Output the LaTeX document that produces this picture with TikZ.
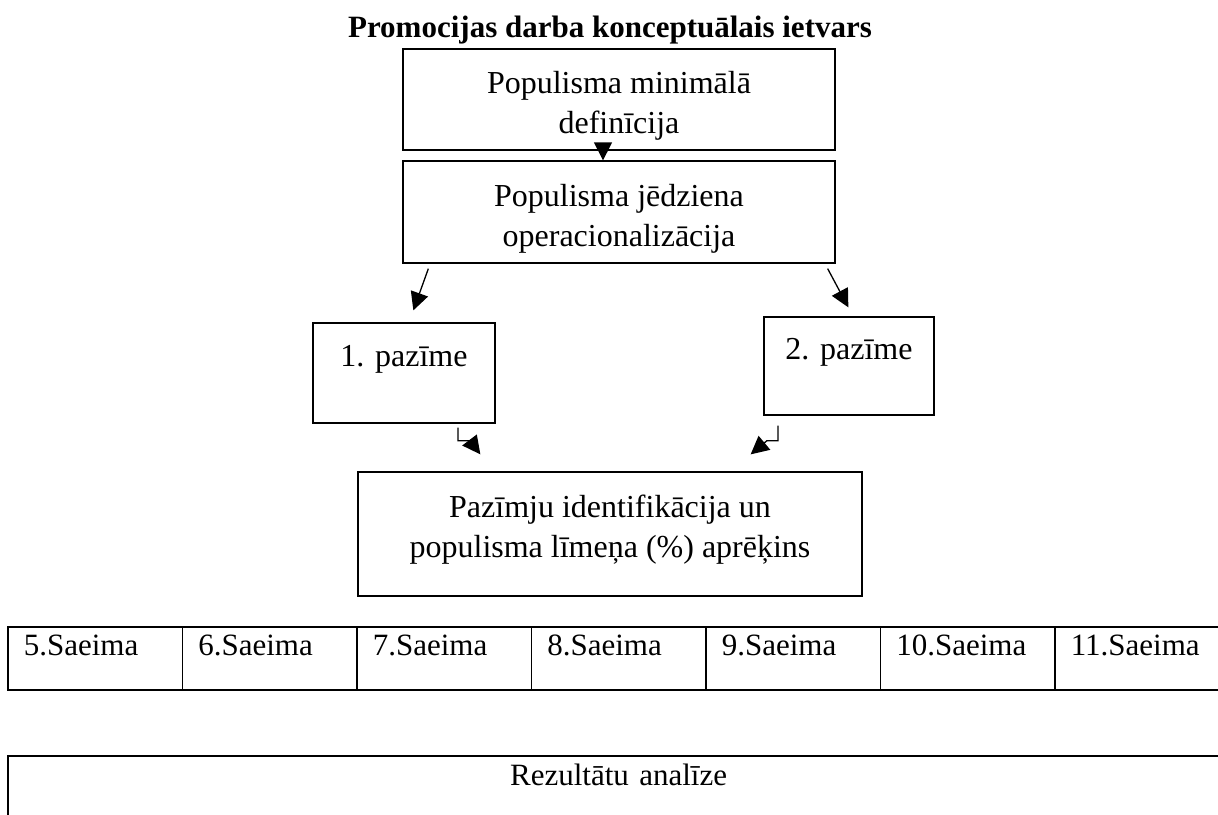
\documentclass[tikz,border=0pt]{standalone}
\usepackage{fontspec}
\setmainfont{Liberation Serif}
\usetikzlibrary{arrows.meta,calc}

\newcommand{\padlow}[1]{\rule[-#1]{0pt}{#1}}
\newcommand{\padtop}[1]{\rule{0pt}{#1}}

\begin{document}
\begin{tikzpicture}[x=1pt,y=-1pt,
  every node/.style={font=\fontsize{31pt}{40pt}\selectfont},
  box/.style={draw,line width=1.3pt,align=center,inner sep=0pt,font=\fontsize{32pt}{40pt}\selectfont},
  cell/.style={draw,line width=1.7pt,anchor=north west,inner ysep=0pt,inner xsep=16pt,
    text width=142.5pt,align=left,text height=29pt,text depth=34pt},
  arr/.style={line width=1.3pt,-{Triangle[length=18pt,width=18pt]}}]

\clip (0,0) rectangle (1218,814) ;

\node[anchor=base,font=\fontsize{31pt}{40pt}\selectfont\bfseries] (title) at (610,37) {Promocijas darba konceptuālais ietvars} ;

\node[box,minimum width=432pt,minimum height=101pt] (def) at (619,99.5) {\padtop{35pt}Populisma minimālā\\definīcija} ;
\node[box,minimum width=432pt,minimum height=102pt] (oper) at (619,212) {\padtop{35pt}Populisma jēdziena\\operacionalizācija} ;

\node[box,minimum width=182pt,minimum height=100pt] (p1) at (404,373) {1. pazīme\padlow{35pt}} ;
\node[box,minimum width=170pt,minimum height=98pt] (p2) at (849,366) {2. pazīme\padlow{35pt}} ;

\node[box,minimum width=504pt,minimum height=124pt] (ident) at (610,534) {Pazīmju identifikācija un\\populisma līmeņa (\%) aprēķins\padlow{15pt}} ;

% arrows
\draw[arr] ($(def.south)+(-16,0)$) -- ($(oper.north)+(-16,0)$) ;
\draw[arr] ($(oper.south west)+(26,5)$) -- ($(p1.north west)+(101,-12)$) ;
\draw[arr] ($(oper.south east)+(-8,5)$) -- ($(p2.north west)+(85,-9)$) ;

\draw[arr] ($(p1.south)+(54,4)$) -- ++(0,13) -- ++(12,0) -- ($(ident.north west)+(123,-17)$) ;
\draw[arr] ($(p2.south)+(-71,10)$) -- ++(0,15) -- ++(-11,0) -- ($(ident.north east)+(-112,-17)$) ;

% Saeimas
\foreach \n [count=\i from 0] in {5,...,11}
  \node[cell] (s\n) at ({7+174.5*\i},626) {\n.Saeima} ;

\node[draw,line width=1.7pt,anchor=north west,inner sep=0pt,text width=1221.5pt,align=center,
  text height=30pt,text depth=80pt] (rez) at (7,755) {Rezultātu analīze} ;

\end{tikzpicture}
\end{document}
